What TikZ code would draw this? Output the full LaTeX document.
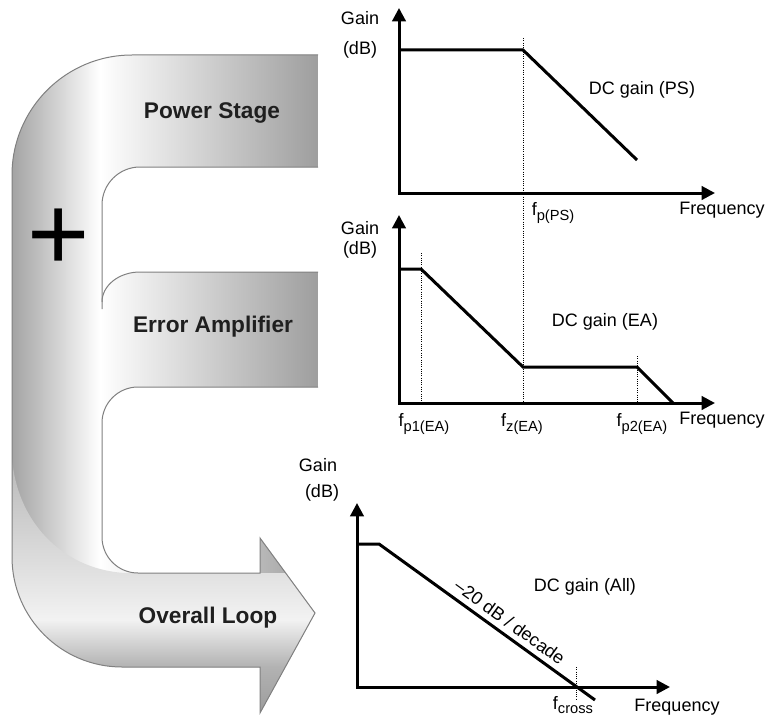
\documentclass[tikz,border=0pt]{standalone}
\usepackage{fontspec}
\setmainfont{Liberation Sans}
\usetikzlibrary{arrows.meta}

\newcommand{\loopband}{(318,664) -- (132,664) arc[start angle=90, end angle=180, radius=120]
    -- (12,162) arc[start angle=180, end angle=270, radius=110]
    -- (260,52) -- (260,6) -- (315,106) -- (260,181) -- (260,146)
    -- (138,146) arc[start angle=270, end angle=180, radius=36]
    -- (102,296) arc[start angle=180, end angle=90, radius=36]
    -- (318,332) -- (318,447)
    -- (140,447) arc[start angle=90, end angle=180, x radius=38, y radius=30]
    -- (102,514) arc[start angle=180, end angle=90, radius=38]
    -- (318,552) -- cycle}
\newcommand{\fsub}[1]{f\raisebox{-0.5ex}{\fontsize{11}{11}\selectfont #1}}
\pgfdeclareverticalshading{bendshade}{100bp}{color(0bp)=(black!40); color(25bp)=(black!40);
    color(35bp)=(black!30); color(44bp)=(black!5); color(53bp)=(black!12); color(75bp)=(black!28);
    color(100bp)=(black!28)}

\begin{document}
\begin{tikzpicture}[x=0.75pt, y=0.75pt,
        axis/.style={line width=2.25pt, line join=miter,
            {Triangle[length=10pt,width=10pt]}-{Triangle[length=10pt,width=10pt]}},
        gainline/.style={line width=2.25pt, line join=miter},
        marker/.style={densely dotted, line width=0.7pt},
        plotlabel/.style={font=\fontsize{13.5}{15}\selectfont, inner sep=1pt},
        stagelabel/.style={font=\fontsize{17}{19}\selectfont\bfseries, text=black!88},
        bandedge/.style={draw=black!50, line width=0.75pt}]
    \useasboundingbox (0,0) rectangle (766,719);

    % bent arrow
    \begin{scope}
        \clip \loopband;
        \shade[left color=black!36, right color=white] (12,0) rectangle (100,719);
        \shade[left color=white, right color=black!38] (100,0) rectangle (318,719);
        \shade[shading=bendshade]
            (12,262) .. controls (16,200) and (60,150) .. (125,146) -- (320,146)
            -- (320,0) -- (12,0) -- cycle;
    \end{scope}
    \draw[bandedge] (318,664) -- (132,664) arc[start angle=90, end angle=180, radius=120]
        -- (12,162) arc[start angle=180, end angle=270, radius=110]
        -- (260,52) -- (260,6) -- (315,106) -- (260,181) -- (260,146)
        -- (138,146) arc[start angle=270, end angle=180, radius=36]
        -- (102,296) arc[start angle=180, end angle=90, radius=36] -- (318,332);
    \draw[bandedge] (318,447) -- (140,447) arc[start angle=90, end angle=180, x radius=38, y radius=30];
    \draw[bandedge] (102,410) -- (102,514) arc[start angle=180, end angle=90, radius=38] -- (318,552);

    \node[stagelabel] (ps) at (212,606) {Power Stage};
    \node[stagelabel] (ea) at (213,392) {Error Amplifier};
    \node[stagelabel] (ol) at (208,101) {Overall Loop};
    \node[font=\fontsize{80}{80}\selectfont, inner sep=0pt] (plus) at (59,479) {+};

    % axes
    \foreach \ox/\oy/\tx/\ty in {399/526/715/711, 399/316/715/504, 357/32/670/216} {
        \draw[axis] (\ox,\ty) -- (\ox,\oy) -- (\tx,\oy);
    }

    % power stage
    \draw[gainline] (399,669) -- (523,669) -- (637,559);
    \draw[marker] (523,681) -- (523,316);
    \node[plotlabel] (gainA) at (360,701) {Gain};
    \node[plotlabel] (dbA) at (360,669) {(dB)};
    \node[plotlabel] (dcA) at (642,629) {DC gain (PS)};
    \node[plotlabel] (freqA) at (722,509) {Frequency};
    \node[plotlabel] (fpA) at (553,506) {\fsub{p(PS)}};

    % error amplifier
    \draw[gainline] (399,450) -- (421,450) -- (523,352) -- (637,352) -- (673,316);
    \draw[marker] (421,466) -- (421,316);
    \draw[marker] (637,363) -- (637,316);
    \node[plotlabel] (gainB) at (360,491) {Gain};
    \node[plotlabel] (dbB) at (360,469) {(dB)};
    \node[plotlabel] (dcB) at (605,397) {DC gain (EA)};
    \node[plotlabel] (fpB) at (424,295) {\fsub{p1(EA)}};
    \node[plotlabel] (fzB) at (522,295) {\fsub{z(EA)}};
    \node[plotlabel] (fqB) at (642,295) {\fsub{p2(EA)}};
    \node[plotlabel] (freqB) at (722,299) {Frequency};

    % overall loop
    \draw[gainline] (357,175) -- (379,175) -- node[plotlabel, pos=0.57, sloped, above=3pt] (slope) {\textendash20 dB / decade} (595,19);
    \draw[marker] (576,52) -- (576,19);
    \node[plotlabel] (gainC) at (318,254) {Gain};
    \node[plotlabel] (dbC) at (322,226) {(dB)};
    \node[plotlabel] (dcC) at (585,132) {DC gain (All)};
    \node[plotlabel] (fcC) at (573,14) {\fsub{cross}};
    \node[plotlabel] (freqC) at (677,12) {Frequency};
\end{tikzpicture}
\end{document}
